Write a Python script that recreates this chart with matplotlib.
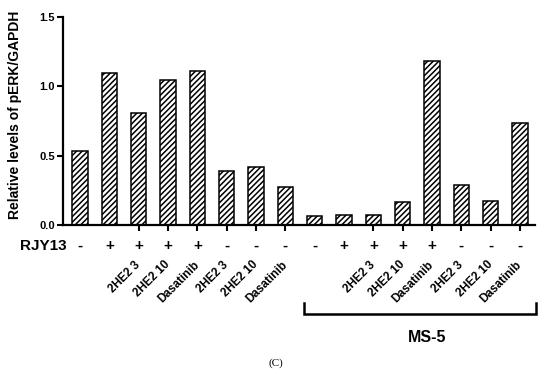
import matplotlib
matplotlib.use("Agg")
import matplotlib.pyplot as plt
from matplotlib.transforms import blended_transform_factory
from matplotlib.lines import Line2D

plt.rcParams['font.family'] = ['Liberation Sans', 'DejaVu Sans']
plt.rcParams['hatch.linewidth'] = 1.1

values = [0.536, 1.094, 0.805, 1.046, 1.113, 0.389, 0.420, 0.276,
          0.065, 0.072, 0.073, 0.166, 1.183, 0.286, 0.171, 0.738]
rjy13 = ['-', '+', '+', '+', '+', '-', '-', '-',
         '-', '+', '+', '+', '+', '-', '-', '-']
treatments = ['', '', '2HE2 3', '2HE2 10', 'Dasatinib', '2HE2 3', '2HE2 10', 'Dasatinib',
              '', '', '2HE2 3', '2HE2 10', 'Dasatinib', '2HE2 3', '2HE2 10', 'Dasatinib']
yticks = [0.0, 0.5, 1.0, 1.5]
ytick_labels = ['0.0', '0.5', '1.0', '1.5']
ylabel = 'Relative levels of pERK/GAPDH'
row_label = 'RJY13'
group_label = 'MS-5'
panel_label = '(C)'

W, H = 550, 373
fig = plt.figure(figsize=(W / 100, H / 100), dpi=100)
ax = fig.add_axes([63 / W, 1 - 225 / H, (535 - 63) / W, (225 - 17) / H])

x = list(range(len(values)))
ax.bar(x, values, width=0.53, color='white', edgecolor='black', linewidth=1.1,
       hatch='//////', zorder=2)

ax.set_xlim(-0.58, 15.51)
ax.set_ylim(0, 1.5)
ax.set_yticks(yticks)
ax.set_yticklabels(ytick_labels, fontsize=8, fontweight='bold')
tick_pos = [i for i, t in enumerate(treatments) if t]
ax.set_xticks(tick_pos)
ax.set_xticklabels([])
ax.tick_params(axis='x', length=4.5, width=1.5, direction='out')
ax.tick_params(axis='y', length=4.3, width=1.5, direction='out', pad=1.5)
for s in ['top', 'right']:
    ax.spines[s].set_visible(False)
for s in ['left', 'bottom']:
    ax.spines[s].set_linewidth(1.6)

fig.text(15 / W, 1 - 115 / H, ylabel, rotation=90, ha='center', va='center',
         fontsize=10, fontweight='bold')

# RJY13 row
trans = blended_transform_factory(ax.transData, fig.transFigure)
fig.text(67 / W, 1 - 246 / H, row_label, ha='right', va='center',
         fontsize=11, fontweight='bold')
for i, s in enumerate(rjy13):
    ax.text(i, 1 - 246 / H, s, transform=trans, ha='center', va='center',
            fontsize=11, fontweight='bold')

# Treatment labels
for i, t in enumerate(treatments):
    if t:
        ax.annotate(t, xy=(i, 1 - 263 / H), xycoords=trans,
                    xytext=(0, 0), textcoords='offset points',
                    rotation=45, rotation_mode='anchor', ha='right', va='center',
                    fontsize=8.5, fontweight='bold', annotation_clip=False)

# Bracket for MS-5
xl = 7.64
xr = 15.55
yb = 1 - 314 / H
yt = 1 - 303 / H
fig.add_artist(Line2D([xl, xl, xr, xr], [yt, yb, yb, yt], transform=trans,
                      color='black', linewidth=1.8, solid_joinstyle='miter'))
fig.text(427.5 / W, 1 - 338 / H, group_label, ha='center', va='center',
         fontsize=11.5, fontweight='bold')

fig.text(276 / W, 1 - 363 / H, panel_label, ha='center', va='center',
         fontsize=8, family='Liberation Serif')

fig.savefig('out.png', dpi=100)
